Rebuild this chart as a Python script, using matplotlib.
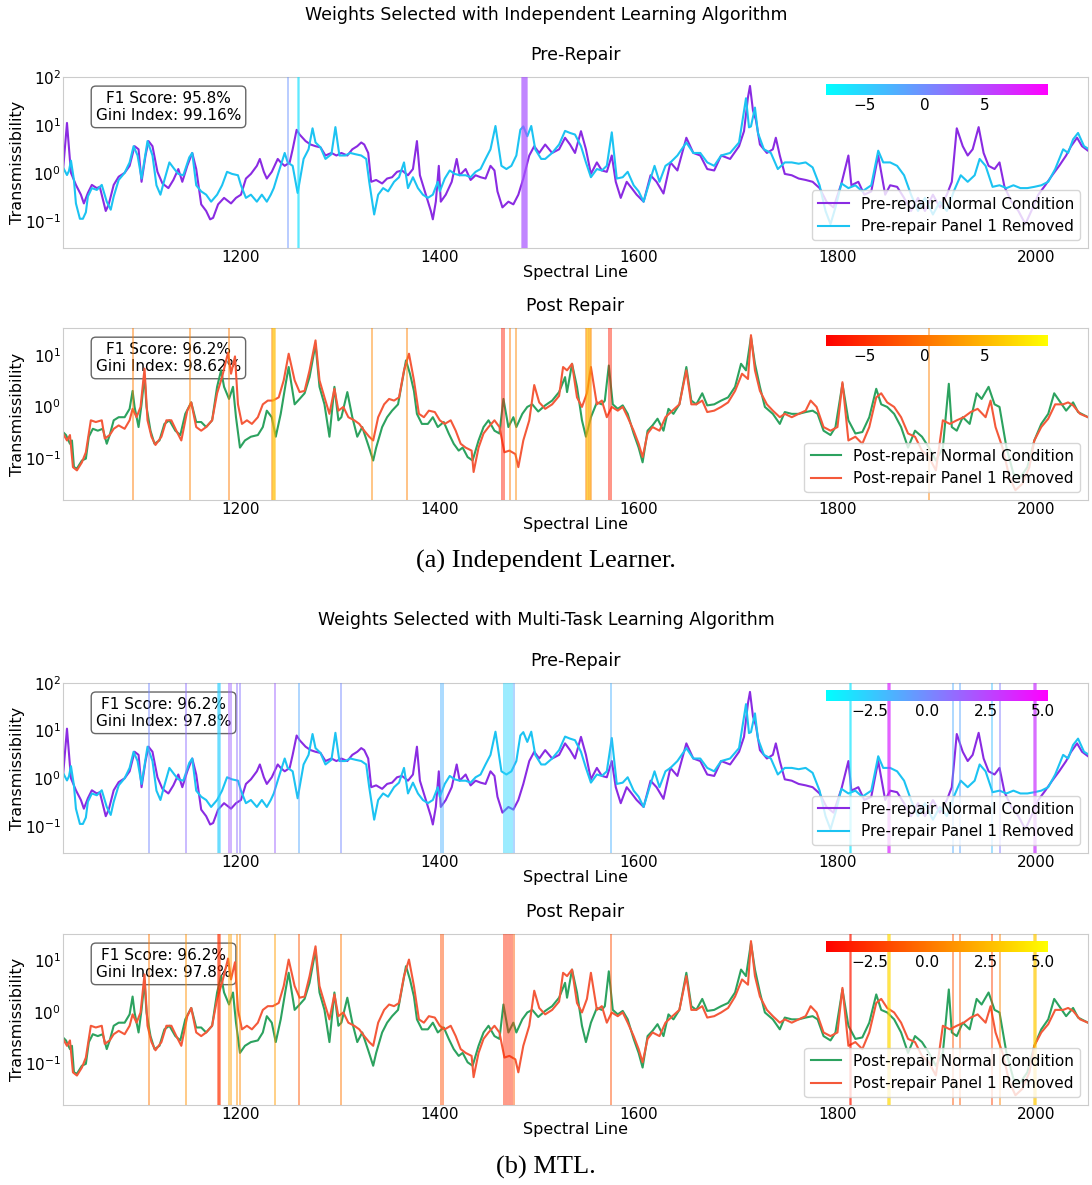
import numpy as np
import matplotlib
matplotlib.use('Agg')
import matplotlib.pyplot as plt
from matplotlib.colors import Normalize
from matplotlib.cm import ScalarMappable

# transmissibility curves, columns: spectral line, value
pre_normal = np.array([
    [1021, 1.1], [1025, 11], [1027, 3.4], [1029, 1.0], [1034, 0.56], [1039, 0.35], [1042, 0.23], [1046, 0.38],
    [1050, 0.56], [1055, 0.48], [1058, 0.51], [1064, 0.16], [1067, 0.22], [1072, 0.56], [1077, 0.83], [1083, 1.0],
    [1088, 1.4], [1093, 3.6], [1097, 3.1], [1100, 0.65], [1104, 2.3], [1107, 4.6], [1111, 3.6], [1116, 1.05],
    [1121, 0.6], [1127, 0.48], [1132, 0.71], [1137, 1.2], [1141, 0.65], [1146, 1.4], [1151, 2.6], [1155, 1.2],
    [1160, 0.22], [1165, 0.16], [1169, 0.107], [1172, 0.115], [1177, 0.22], [1183, 0.3], [1190, 0.23], [1195, 0.3],
    [1200, 0.35], [1205, 0.76], [1210, 0.95], [1216, 1.4], [1219, 1.95], [1223, 1.05], [1226, 0.76], [1231, 1.05],
    [1237, 1.95], [1240, 1.65], [1244, 1.4], [1249, 1.65], [1252, 3.1], [1256, 7.9], [1259, 6.3], [1265, 4.6],
    [1270, 3.9], [1275, 3.6], [1280, 3.4], [1285, 2.3], [1291, 2.6], [1296, 2.3], [1301, 2.6], [1307, 2.3],
    [1312, 3.1], [1317, 3.6], [1321, 4.3], [1324, 3.9], [1328, 2.6], [1331, 0.65], [1336, 0.71], [1342, 0.6],
    [1347, 0.76], [1352, 0.81], [1357, 1.05], [1362, 1.12], [1368, 0.89], [1373, 1.2], [1377, 4.6], [1380, 0.89],
    [1385, 0.41], [1391, 0.16], [1393, 0.107], [1396, 0.25], [1399, 1.4], [1401, 0.25], [1406, 0.35], [1412, 0.65],
    [1417, 1.95], [1420, 0.89], [1426, 1.2], [1431, 0.71], [1436, 0.89], [1441, 0.81], [1446, 0.76], [1451, 1.4],
    [1455, 1.12], [1458, 0.41], [1463, 0.19], [1469, 0.25], [1474, 0.22], [1479, 0.35], [1484, 0.76], [1490, 2.3],
    [1495, 3.6], [1500, 2.6], [1506, 3.9], [1513, 2.6], [1520, 3.1], [1526, 5.4], [1531, 3.9], [1536, 2.6],
    [1542, 7.4], [1547, 3.1], [1552, 0.95], [1558, 1.65], [1563, 1.12], [1568, 1.05], [1573, 2.3], [1577, 0.65],
    [1582, 0.3], [1588, 0.65], [1593, 0.48], [1598, 0.35], [1605, 0.25], [1612, 0.89], [1618, 0.65], [1625, 0.37],
    [1632, 1.65], [1639, 1.12], [1648, 5.4], [1655, 2.6], [1662, 2.3], [1669, 1.2], [1676, 1.12], [1683, 2.3],
    [1692, 1.95], [1701, 3.6], [1706, 7.4], [1710, 38], [1712, 65], [1715, 20], [1718, 12.6], [1722, 3.9],
    [1729, 2.6], [1735, 3.1], [1738, 5.4], [1742, 2.3], [1747, 0.95], [1754, 0.89], [1761, 0.76], [1768, 0.71],
    [1775, 0.65], [1782, 0.48], [1789, 0.25], [1796, 0.19], [1804, 0.6], [1811, 2.3], [1814, 0.55], [1821, 0.65],
    [1827, 0.35], [1834, 0.41], [1841, 2.3], [1848, 0.35], [1853, 0.55], [1860, 0.51], [1867, 0.3], [1874, 0.16],
    [1881, 0.3], [1888, 0.16], [1896, 0.35], [1903, 0.19], [1910, 0.35], [1915, 0.65], [1920, 8.5], [1926, 3.6],
    [1931, 2.3], [1936, 3.1], [1942, 9.0], [1947, 2.6], [1952, 1.4], [1958, 1.2], [1963, 1.65], [1968, 0.51],
    [1975, 0.25], [1982, 0.16], [1989, 0.085], [1995, 0.16], [2002, 0.35], [2009, 0.55], [2016, 0.89], [2023, 1.4],
    [2030, 2.3], [2035, 3.6], [2041, 5.4], [2046, 3.6], [2052, 2.9]])

pre_removed = np.array([
    [1021, 1.3], [1025, 0.9], [1027, 1.1], [1029, 1.8], [1032, 0.71], [1034, 0.23], [1038, 0.11], [1041, 0.11],
    [1044, 0.15], [1046, 0.32], [1050, 0.48], [1055, 0.44], [1060, 0.56], [1065, 0.25], [1069, 0.17], [1072, 0.32],
    [1077, 0.71], [1083, 1.0], [1088, 1.65], [1092, 3.6], [1096, 2.3], [1100, 0.76], [1106, 4.6], [1111, 2.3],
    [1115, 0.55], [1119, 0.35], [1123, 0.71], [1128, 1.65], [1133, 1.2], [1137, 0.95], [1142, 0.89], [1148, 2.1],
    [1151, 2.6], [1155, 0.55], [1160, 0.41], [1165, 0.35], [1170, 0.25], [1176, 0.35], [1181, 0.55], [1186, 1.05],
    [1191, 0.95], [1197, 0.89], [1200, 0.55], [1205, 0.3], [1210, 0.35], [1216, 0.25], [1221, 0.35], [1226, 0.25],
    [1230, 0.35], [1233, 0.48], [1238, 1.05], [1244, 2.6], [1247, 1.65], [1252, 1.4], [1257, 0.38], [1259, 0.65],
    [1263, 1.95], [1268, 3.1], [1272, 8.5], [1275, 4.3], [1280, 3.4], [1285, 1.95], [1291, 2.45], [1295, 9.0],
    [1299, 2.3], [1305, 2.3], [1310, 2.6], [1315, 2.45], [1321, 2.3], [1326, 1.95], [1329, 0.65], [1334, 0.135],
    [1338, 0.35], [1343, 0.48], [1348, 0.41], [1354, 0.65], [1359, 0.81], [1364, 1.65], [1368, 0.48], [1373, 0.81],
    [1378, 0.48], [1383, 0.35], [1388, 0.3], [1393, 0.35], [1398, 0.65], [1400, 0.41], [1405, 0.76], [1410, 1.12],
    [1415, 0.95], [1420, 0.89], [1426, 0.89], [1431, 0.81], [1436, 1.05], [1441, 1.2], [1446, 1.95], [1451, 3.1],
    [1456, 9.5], [1462, 1.4], [1467, 1.2], [1472, 1.4], [1477, 2.3], [1481, 7.9], [1484, 9.3], [1488, 5.8],
    [1492, 9.5], [1496, 3.1], [1502, 1.95], [1506, 1.95], [1513, 2.6], [1520, 3.9], [1526, 7.5], [1531, 6.8],
    [1536, 6.3], [1542, 3.6], [1547, 1.65], [1552, 0.81], [1558, 1.2], [1563, 1.12], [1568, 1.4], [1573, 7.0],
    [1578, 0.76], [1584, 0.81], [1589, 1.05], [1595, 0.55], [1600, 0.41], [1605, 0.25], [1611, 0.65], [1616, 1.4],
    [1621, 0.65], [1627, 1.4], [1632, 1.65], [1639, 2.3], [1648, 4.3], [1655, 2.6], [1662, 2.6], [1669, 1.65],
    [1676, 1.4], [1683, 2.3], [1692, 2.6], [1701, 4.3], [1708, 36], [1711, 8.9], [1713, 9.3], [1717, 23],
    [1720, 6.8], [1726, 3.1], [1733, 2.6], [1740, 1.2], [1747, 1.65], [1754, 1.65], [1761, 1.55], [1768, 1.65],
    [1775, 1.3], [1782, 0.55], [1788, 0.16], [1793, 0.085], [1798, 0.19], [1804, 0.6], [1811, 0.48], [1818, 0.55],
    [1825, 0.41], [1834, 0.55], [1841, 2.9], [1846, 1.65], [1853, 1.65], [1860, 1.4], [1867, 0.89], [1874, 0.35],
    [1881, 0.16], [1888, 0.3], [1896, 0.135], [1903, 0.25], [1910, 0.16], [1917, 0.41], [1924, 0.89], [1931, 0.65],
    [1938, 0.89], [1943, 1.95], [1949, 1.4], [1956, 0.51], [1963, 0.55], [1970, 0.48], [1977, 0.55], [1984, 0.48],
    [1991, 0.48], [1998, 0.51], [2005, 0.55], [2012, 0.65], [2019, 1.2], [2027, 3.1], [2032, 2.6], [2037, 5.0],
    [2042, 6.8], [2048, 3.6], [2052, 3.2]])

post_normal = np.array([
    [1021, 0.32], [1024, 0.28], [1028, 0.19], [1030, 0.22], [1032, 0.067], [1035, 0.063], [1040, 0.09], [1044, 0.098],
    [1047, 0.26], [1051, 0.37], [1056, 0.34], [1061, 0.37], [1065, 0.19], [1068, 0.28], [1072, 0.54], [1077, 0.62],
    [1083, 0.62], [1088, 0.9], [1091, 2.0], [1093, 0.98], [1097, 0.4], [1100, 1.1], [1103, 4.0], [1105, 0.98],
    [1109, 0.34], [1113, 0.19], [1118, 0.22], [1123, 0.46], [1128, 0.54], [1134, 0.34], [1139, 0.28], [1144, 0.72],
    [1150, 1.2], [1155, 0.5], [1160, 0.5], [1165, 0.4], [1171, 0.54], [1176, 2.4], [1180, 5.0], [1183, 2.4],
    [1188, 1.4], [1192, 2.4], [1195, 0.62], [1199, 0.16], [1204, 0.22], [1210, 0.26], [1217, 0.28], [1222, 0.4],
    [1226, 0.83], [1231, 0.62], [1235, 0.26], [1240, 0.72], [1245, 2.75], [1248, 5.8], [1254, 1.1], [1259, 1.4],
    [1264, 1.8], [1269, 3.7], [1275, 16], [1279, 2.4], [1284, 1.1], [1289, 0.26], [1294, 2.4], [1298, 0.54],
    [1301, 0.62], [1307, 1.9], [1312, 0.62], [1317, 0.26], [1322, 0.4], [1328, 0.18], [1333, 0.09], [1336, 0.16],
    [1342, 0.4], [1347, 0.62], [1352, 0.83], [1358, 1.1], [1363, 3.7], [1366, 7.8], [1370, 4.3], [1374, 2.0],
    [1377, 0.72], [1382, 0.46], [1388, 0.46], [1393, 0.62], [1398, 0.4], [1404, 0.5], [1409, 0.3], [1414, 0.19],
    [1419, 0.14], [1423, 0.16], [1428, 0.105], [1433, 0.09], [1439, 0.22], [1444, 0.4], [1449, 0.54], [1455, 0.34],
    [1460, 0.3], [1464, 1.4], [1469, 0.4], [1474, 0.62], [1477, 0.4], [1483, 0.72], [1488, 0.98], [1493, 1.1],
    [1499, 0.8], [1506, 1.05], [1513, 1.3], [1520, 1.9], [1526, 3.7], [1528, 1.9], [1533, 6.7], [1538, 2.4],
    [1543, 0.54], [1547, 0.26], [1552, 0.62], [1558, 1.2], [1563, 1.1], [1566, 1.3], [1570, 6.2], [1574, 1.1],
    [1579, 0.9], [1584, 1.05], [1589, 0.72], [1595, 0.3], [1600, 0.16], [1604, 0.083], [1609, 0.34], [1614, 0.43],
    [1619, 0.58], [1625, 0.34], [1630, 0.9], [1635, 0.72], [1641, 1.1], [1648, 5.8], [1653, 1.3], [1658, 1.1],
    [1664, 1.8], [1669, 1.05], [1676, 1.1], [1683, 1.3], [1690, 1.5], [1697, 2.4], [1703, 6.7], [1708, 5.0],
    [1713, 22], [1717, 6.7], [1722, 2.4], [1727, 0.98], [1735, 0.72], [1742, 0.46], [1747, 0.78], [1754, 0.72],
    [1761, 0.72], [1768, 0.78], [1775, 0.83], [1780, 0.72], [1786, 0.34], [1793, 0.28], [1798, 0.4], [1805, 2.75],
    [1811, 0.54], [1818, 0.3], [1825, 0.32], [1832, 0.62], [1839, 2.2], [1844, 1.1], [1850, 0.98], [1857, 0.72],
    [1864, 0.4], [1871, 0.16], [1878, 0.34], [1885, 0.26], [1892, 0.16], [1899, 0.09], [1906, 0.16], [1912, 2.75],
    [1915, 0.4], [1920, 0.34], [1926, 0.62], [1933, 0.46], [1940, 1.8], [1945, 1.4], [1952, 2.4], [1958, 1.1],
    [1963, 0.98], [1970, 0.16], [1977, 0.05], [1984, 0.043], [1991, 0.067], [1998, 0.22], [2005, 0.46], [2012, 0.72],
    [2018, 1.8], [2023, 1.3], [2030, 0.83], [2037, 1.2], [2042, 0.78], [2052, 0.62]])

post_removed = np.array([
    [1021, 0.3], [1025, 0.22], [1028, 0.28], [1031, 0.067], [1035, 0.058], [1040, 0.083], [1044, 0.13], [1049, 0.54],
    [1054, 0.5], [1060, 0.54], [1063, 0.24], [1068, 0.28], [1072, 0.37], [1077, 0.43], [1083, 0.37], [1088, 0.54],
    [1091, 0.9], [1095, 0.62], [1099, 0.98], [1103, 5.4], [1106, 0.54], [1110, 0.26], [1114, 0.18], [1120, 0.26],
    [1125, 0.54], [1130, 0.54], [1135, 0.34], [1140, 0.22], [1146, 0.83], [1150, 1.2], [1155, 0.4], [1160, 0.34],
    [1165, 0.4], [1171, 0.54], [1176, 1.8], [1181, 3.7], [1187, 11], [1190, 4.3], [1194, 9.3], [1197, 1.1],
    [1201, 0.46], [1206, 0.54], [1211, 0.46], [1217, 0.62], [1222, 1.1], [1227, 1.3], [1232, 1.3], [1238, 1.5],
    [1243, 3.2], [1248, 10.5], [1254, 3.2], [1259, 1.9], [1264, 2.0], [1269, 5.0], [1275, 19], [1279, 3.2],
    [1284, 1.5], [1289, 0.72], [1294, 2.2], [1298, 0.83], [1303, 0.98], [1308, 0.62], [1314, 0.54], [1319, 0.46],
    [1324, 0.34], [1329, 0.26], [1333, 0.22], [1338, 0.62], [1344, 1.1], [1349, 1.4], [1354, 1.3], [1359, 1.5],
    [1364, 5.0], [1369, 10.5], [1374, 3.2], [1379, 0.72], [1384, 0.62], [1389, 0.83], [1395, 0.78], [1400, 0.54],
    [1405, 0.46], [1411, 0.54], [1416, 0.34], [1421, 0.19], [1426, 0.16], [1432, 0.14], [1434, 0.054], [1439, 0.16],
    [1444, 0.3], [1449, 0.4], [1455, 0.54], [1460, 0.4], [1465, 0.13], [1470, 0.14], [1476, 0.12], [1479, 0.067],
    [1484, 0.22], [1490, 0.54], [1495, 2.6], [1500, 1.2], [1506, 0.9], [1513, 1.1], [1520, 1.6], [1524, 5.8],
    [1528, 5.0], [1533, 6.7], [1538, 1.5], [1543, 0.98], [1548, 1.8], [1552, 5.8], [1558, 1.1], [1563, 1.3],
    [1568, 0.62], [1573, 0.98], [1579, 0.83], [1584, 0.98], [1589, 0.62], [1595, 0.34], [1600, 0.19], [1604, 0.105],
    [1609, 0.3], [1614, 0.4], [1621, 0.34], [1627, 0.62], [1634, 0.83], [1641, 1.1], [1648, 5.0], [1653, 1.1],
    [1658, 1.1], [1664, 1.3], [1669, 0.78], [1676, 0.83], [1683, 0.98], [1690, 1.2], [1697, 2.0], [1704, 4.3],
    [1710, 3.4], [1713, 24], [1717, 5.0], [1722, 2.0], [1729, 1.1], [1735, 0.83], [1742, 0.62], [1747, 0.72],
    [1754, 0.62], [1761, 0.72], [1768, 0.83], [1773, 1.3], [1779, 0.98], [1786, 0.4], [1793, 0.34], [1800, 0.4],
    [1805, 2.95], [1811, 0.22], [1818, 0.26], [1825, 0.19], [1832, 0.4], [1839, 1.5], [1844, 1.8], [1850, 1.2],
    [1857, 0.98], [1864, 0.62], [1871, 0.3], [1878, 0.26], [1885, 0.14], [1892, 0.105], [1899, 0.058], [1906, 0.54],
    [1913, 0.46], [1920, 0.54], [1927, 0.62], [1934, 0.78], [1941, 0.9], [1949, 0.62], [1954, 1.3], [1959, 0.4],
    [1966, 0.16], [1973, 0.043], [1979, 0.024], [1986, 0.032], [1993, 0.067], [1998, 0.22], [2005, 0.4], [2012, 0.58],
    [2019, 1.1], [2027, 1.1], [2032, 1.2], [2037, 1.05], [2044, 0.72], [2052, 0.62]])

# selected spectral lines and their weights
ind_pre_lines = [1247, 1257, 1258, 1483, 1484, 1485, 1486, 1487, 1488]
ind_pre_weights = [-0.5, -6.0, -6.0, 4.0, 4.0, 4.0, 4.0, 4.0, 4.0]

ind_post_lines = [1091, 1149, 1188, 1231, 1232, 1233, 1234, 1332, 1367, 1463, 1465, 1471, 1477,
                  1547, 1548, 1549, 1550, 1551, 1552, 1570, 1572, 1892]
ind_post_weights = [0.5, 1.0, 0.5, 1.5, 5.5, 6.0, 5.0, 1.5, 1.0, -6.5, -6.0, 0.5, 1.5,
                    1.0, 5.0, 6.0, 2.0, 5.5, 1.5, -6.5, -6.0, 1.0]

mtl_lines = [1108, 1145, 1177, 1178, 1179, 1188, 1190, 1196, 1199, 1234, 1258, 1301, 1401, 1403,
             1465, 1467, 1469, 1471, 1473, 1475, 1572, 1813, 1814,
             1851, 1852, 1853, 1916, 1923, 1955, 1963, 1998, 1999, 2000]
mtl_weights = [0.0, 1.0, -2.5, -2.8, -2.5, 1.8, 1.5, 1.0, 0.8, 1.5, -1.2, 0.0, -1.5, -1.5,
               -2.8, -3.0, -2.8, -3.0, -2.8, -1.0, -1.5, -3.5, -3.5,
               3.0, 4.5, 3.5, -1.3, -1.0, -2.0, 0.5, 3.0, 3.5, 3.0]

ind_range = (-8.2, 10.2)
mtl_range = (-4.4, 5.2)
ind_cticks = [-5, 0, 5]
mtl_cticks = [-2.5, 0.0, 2.5, 5.0]
xticks = [1200, 1400, 1600, 1800, 2000]

pre_names = ['Pre-repair Normal Condition', 'Pre-repair Panel 1 Removed']
post_names = ['Post-repair Normal Condition', 'Post-repair Panel 1 Removed']
pre_colors = ['#8a2be2', '#1cc3f2']
post_colors = ['#2ca25f', '#f4593a']

W, H = 1092, 1185


def draw_panel(ax, normal, removed, names, colors, lines, weights, cmap, vrange, cticks, score, ylim, title):
    ax.plot(normal[:, 0], normal[:, 1], color=colors[0], lw=1.5, label=names[0])
    ax.plot(removed[:, 0], removed[:, 1], color=colors[1], lw=1.5, label=names[1])
    norm = Normalize(*vrange)
    for s, w in zip(lines, weights):
        ax.axvline(s, color=cmap(norm(w)), alpha=0.6, lw=1.1, zorder=3)
    ax.set_yscale('log')
    ax.set_xlim(1021, 2052)
    ax.set_ylim(*ylim)
    ax.set_xticks(xticks)
    ax.tick_params(length=0, labelsize=11, pad=1.5)
    ax.tick_params(which='minor', length=0)
    for sp in ax.spines.values():
        sp.set_color('0.8')
    ax.set_xlabel('Spectral Line', fontsize=11.5, labelpad=0)
    ax.set_ylabel('Transmissibility', fontsize=11.5, labelpad=0)
    ax.set_title(title, fontsize=12.5, pad=12)
    ax.text(0.032, 0.92, score, transform=ax.transAxes, fontsize=11, va='top', ha='left',
            multialignment='center', zorder=1.9,
            bbox=dict(boxstyle='round', facecolor='white', edgecolor='black', alpha=0.6))
    ax.legend(loc='lower right', fontsize=11)

    cax = ax.inset_axes([0.744, 0.895, 0.217, 0.064])
    cb = plt.colorbar(ScalarMappable(norm=norm, cmap=cmap), cax=cax, orientation='horizontal')
    cb.set_ticks(cticks)
    cb.outline.set_visible(False)
    cax.tick_params(length=0, labelsize=11, pad=2)


fig = plt.figure(figsize=(W / 100, H / 100), dpi=100)

# (top, bottom) of every panel in pixels
rows = [(77, 248), (328, 500), (683, 853), (934, 1105)]
axes = []
for top, bottom in rows:
    axes.append(fig.add_axes([63 / W, 1 - bottom / H, 1025 / W, (bottom - top) / H]))

cool = plt.get_cmap('cool')
autumn = plt.get_cmap('autumn')

draw_panel(axes[0], pre_normal, pre_removed, pre_names, pre_colors, ind_pre_lines, ind_pre_weights,
           cool, ind_range, ind_cticks, 'F1 Score: 95.8%\nGini Index: 99.16%', (0.027, 100), 'Pre-Repair')
draw_panel(axes[1], post_normal, post_removed, post_names, post_colors, ind_post_lines, ind_post_weights,
           autumn, ind_range, ind_cticks, 'F1 Score: 96.2%\nGini Index: 98.62%', (0.0155, 33), 'Post Repair')
draw_panel(axes[2], pre_normal, pre_removed, pre_names, pre_colors, mtl_lines, mtl_weights,
           cool, mtl_range, mtl_cticks, 'F1 Score: 96.2%\nGini Index: 97.8%', (0.027, 100), 'Pre-Repair')
draw_panel(axes[3], post_normal, post_removed, post_names, post_colors, mtl_lines, mtl_weights,
           autumn, mtl_range, mtl_cticks, 'F1 Score: 96.2%\nGini Index: 97.8%', (0.0155, 33), 'Post Repair')

fig.text(0.5, 1 - 15 / H, 'Weights Selected with Independent Learning Algorithm', ha='center', va='center', fontsize=12.5)
fig.text(0.5, 1 - 620 / H, 'Weights Selected with Multi-Task Learning Algorithm', ha='center', va='center', fontsize=12.5)
fig.text(0.5, 1 - 561 / H, '(a) Independent Learner.', ha='center', va='center', fontsize=19, family='Liberation Serif')
fig.text(0.5, 1 - 1167 / H, '(b) MTL.', ha='center', va='center', fontsize=19, family='Liberation Serif')

fig.savefig('out.png', dpi=100)
